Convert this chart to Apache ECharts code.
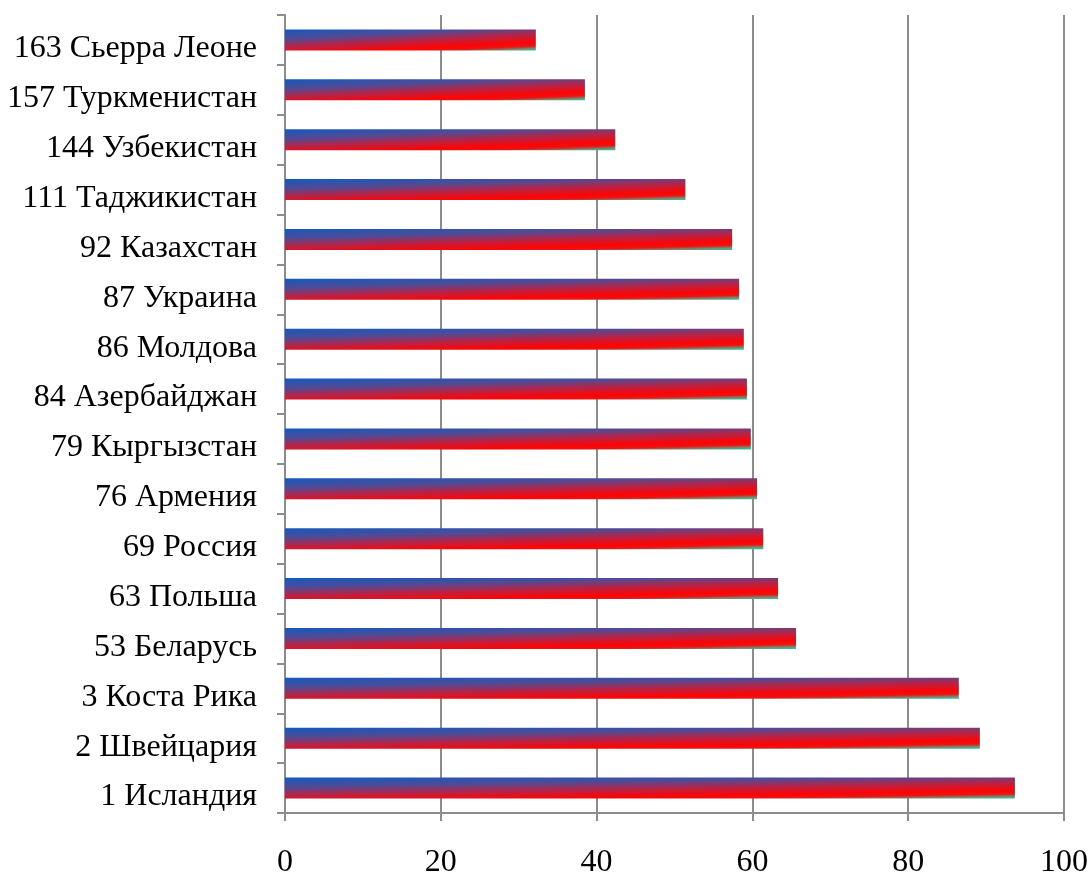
<!DOCTYPE html>
<html>
<head>
<meta charset="utf-8">
<script src="https://cdn.jsdelivr.net/npm/echarts@6/dist/echarts.min.js"></script>
<style>
  html, body { margin: 0; padding: 0; background: #ffffff; }
  #chart { width: 1091px; height: 875px; }
</style>
</head>
<body>
<div id="chart"></div>
<script>
// Countries, listed from the bottom row upward
const countries = [
  '1 Исландия', '2 Швейцария', '3 Коста Рика', '53 Беларусь', '63 Польша',
  '69 Россия', '76 Армения', '79 Кыргызстан', '84 Азербайджан', '86 Молдова',
  '87 Украина', '92 Казахстан', '111 Таджикистан', '144 Узбекистан',
  '157 Туркменистан', '163 Сьерра Леоне'
];
const scores = [
  93.7, 89.2, 86.5, 65.6, 63.3,
  61.4, 60.6, 59.8, 59.3, 58.9,
  58.3, 57.4, 51.4, 42.4, 38.5, 32.2
];
const xTicks = [0, 20, 40, 60, 80, 100];

// Bar fill: blue-to-red-to-teal gradient, tilted slightly so that the
// right end of each bar sits further along the ramp than the left end.
const BAR_H = 21;            // bar thickness in px
const PX_PER_UNIT = 779 / 100;
const TILT = 0.6;
function barFill(v) {
  const w = Math.max(v * PX_PER_UNIT, 1);
  const B = 1 + TILT;
  const A = TILT * B * BAR_H * BAR_H / (w * w);
  return new echarts.graphic.LinearGradient(0, 0, A, B, [
    { offset: 0.00, color: '#1459bd' },
    { offset: 0.28, color: '#4d4c98' },
    { offset: 0.52, color: '#b52448' },
    { offset: 0.76, color: '#ff0303' },
    { offset: 0.86, color: '#e81515' },
    { offset: 0.94, color: '#7c8a70' },
    { offset: 1.00, color: '#14d2a5' }
  ]);
}

const chart = echarts.init(document.getElementById('chart'), null, { renderer: 'canvas' });
const serif = '"Liberation Serif", "Times New Roman", serif';
const axisGray = '#8c8c8c';

chart.setOption({
  animation: false,
  backgroundColor: '#ffffff',
  grid: {
    left: 285, right: 27, top: 15, bottom: 62,
    containLabel: false,
    outerBoundsMode: 'none'
  },
  xAxis: {
    type: 'value',
    min: xTicks[0],
    max: xTicks[xTicks.length - 1],
    interval: 20,
    axisLine: { show: true, lineStyle: { color: axisGray, width: 2 } },
    axisTick: { show: true, length: 8, lineStyle: { color: axisGray, width: 2 } },
    splitLine: { show: true, lineStyle: { color: axisGray, width: 2 } },
    axisLabel: {
      margin: 34,
      color: '#000000',
      fontFamily: serif,
      fontSize: 32,
      formatter: v => String(v)
    }
  },
  yAxis: {
    type: 'category',
    data: countries,
    axisLine: { show: true, lineStyle: { color: axisGray, width: 2 } },
    axisTick: { show: true, length: 8, alignWithLabel: false, lineStyle: { color: axisGray, width: 2 } },
    splitLine: { show: false },
    axisLabel: {
      margin: 28,
      color: '#000000',
      fontFamily: serif,
      fontSize: 32,
      verticalAlign: 'top',
      lineHeight: 18
    }
  },
  series: [{
    type: 'bar',
    barWidth: BAR_H,
    data: scores.map(v => ({ value: v, itemStyle: { color: barFill(v) } }))
  }]
});
</script>
</body>
</html>
